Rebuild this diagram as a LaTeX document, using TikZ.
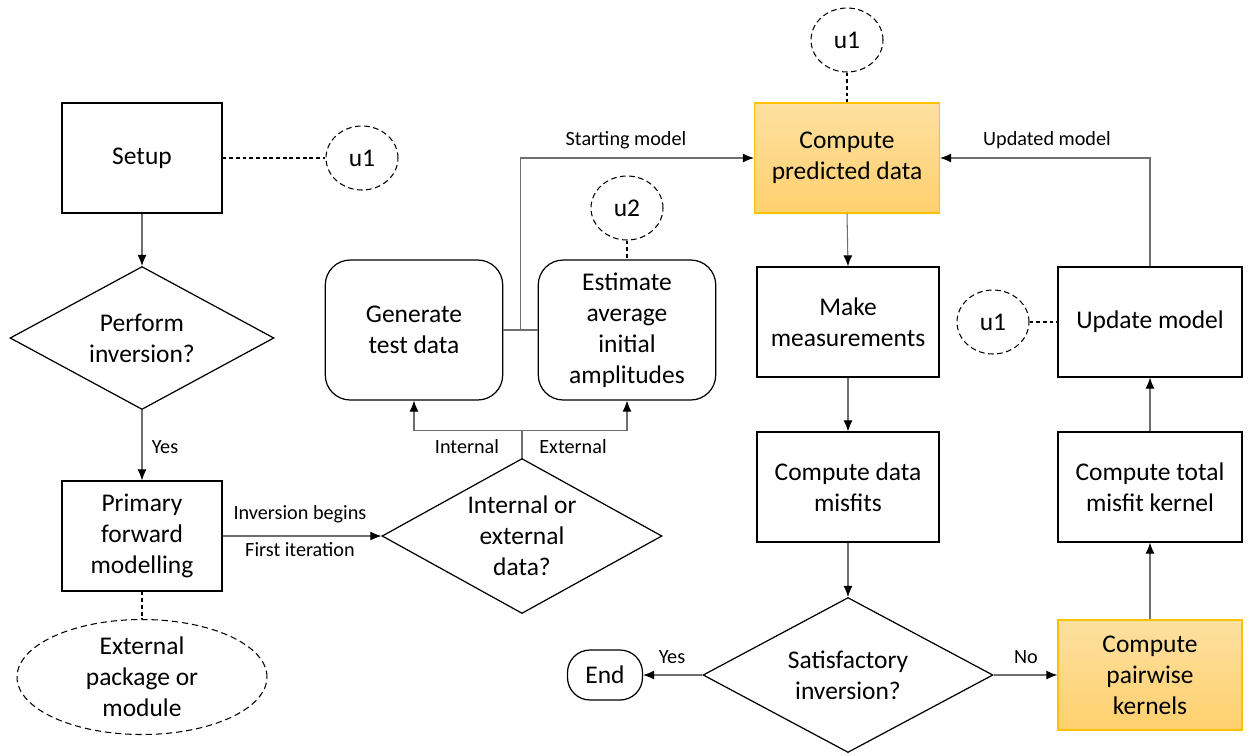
\documentclass[tikz,border=0pt]{standalone}
\usepackage{fontspec}
\setmainfont{Carlito}
\usetikzlibrary{shapes.geometric,calc,arrows.meta}

\definecolor{connline}{RGB}{110,110,110}
\definecolor{hlborder}{RGB}{255,192,0}
\definecolor{hltop}{RGB}{253,224,160}
\definecolor{hlbot}{RGB}{255,208,110}

\newcommand{\mainfs}{\fontsize{14.5}{17.6}\selectfont}
\newcommand{\lblfs}{\fontsize{11.5}{13}\selectfont}

\tikzset{
  procbox/.style={draw,line width=0.7pt,minimum width=3.2cm,minimum height=2.2cm,
    align=center,font=\mainfs,inner sep=2pt},
  hlbox/.style={procbox,draw=hlborder,top color=hltop,bottom color=hlbot},
  roundbox/.style={procbox,rounded corners=0.5cm,minimum width=3.55cm,minimum height=2.8cm},
  decision/.style={diamond,draw,line width=0.7pt,align=center,font=\mainfs,
    inner sep=0pt,aspect=1.8},
  unode/.style={ellipse,draw,dash pattern=on 3.2pt off 2pt,line width=0.6pt,
    minimum width=1.44cm,minimum height=1.28cm,font=\mainfs,inner sep=0pt},
  conn/.style={draw=connline,line width=0.6pt,-{Latex[black,length=2.2mm,width=1.8mm]}},
  plainconn/.style={draw=connline,line width=0.6pt},
  dline/.style={dash pattern=on 2.2pt off 1.6pt,line width=0.6pt},
  lbl/.style={font=\lblfs,inner sep=1pt}
}

\begin{document}
\begin{tikzpicture}[x=0.02cm,y=-0.02cm]
  \useasboundingbox (0,0) rectangle (1251,755);

  % left column
  \node[procbox] (setup) at (142,158) {Setup};
  \node[unode] (uA) at (362,158) {u1};
  \node[decision,minimum width=5.28cm,minimum height=2.86cm] (pinv) at (142,338) {Perform\\inversion?};
  \node[procbox] (pfm) at (142,536) {Primary\\forward\\modelling};
  \node[ellipse,draw,dash pattern=on 3.6pt off 2.2pt,line width=0.6pt,minimum width=5cm,
    minimum height=2.3cm,align=center,font=\mainfs,inner sep=0pt] (ext) at (142,677) {External\\package or\\module};

  % data source
  \node[decision,minimum width=5.6cm,minimum height=3.1cm] (iod) at (522,536) {Internal or\\external\\data?};
  \node[roundbox] (gen) at (414,330) {Generate\\test data};
  \node[roundbox] (est) at (627,330) {Estimate\\average\\initial\\amplitudes};
  \node[unode] (uB) at (627,208) {u2};

  % main loop
  \node[hlbox,minimum width=3.7cm] (pred) at (847,158) {Compute\\predicted data};
  \node[unode] (uC) at (847,40) {u1};
  \node[procbox,minimum width=3.64cm] (meas) at (848,322) {Make\\measurements};
  \node[procbox,minimum width=3.64cm] (misf) at (848,487) {Compute data\\misfits};
  \node[decision,minimum width=5.8cm,minimum height=3.1cm] (sat) at (848,675) {Satisfactory\\inversion?};
  \node[draw,line width=0.7pt,rounded corners=0.45cm,minimum width=1.5cm,minimum height=1cm,
    font=\mainfs] (end) at (605,675) {End};
  \node[hlbox,minimum width=3.68cm] (pair) at (1150,675) {Compute\\pairwise\\kernels};
  \node[procbox,minimum width=3.68cm] (tot) at (1150,487) {Compute total\\misfit kernel};
  \node[procbox,minimum width=3.68cm] (upd) at (1150,322) {Update model};
  \node[unode] (uD) at (993,322) {u1};

  % dashed links
  \draw[dline] (setup.east) -- (uA.west);
  \draw[dline] (pfm.south) -- (ext.north);
  \draw[dline] (uB.south) -- (est.north);
  \draw[dline] (uC.south) -- (pred.north);
  \draw[dline] (uD.east) -- (upd.west);

  % connectors
  \draw[conn] (setup.south) -- (pinv.north);
  \draw[conn] (pinv.south) -- (pfm.north);
  \node[lbl] at (165,447) {Yes};
  \draw[conn] (pfm.east) -- (iod.west);
  \node[lbl] at (300,514) {Inversion begins};
  \node[lbl] at (300,550) {First iteration};

  \coordinate (br) at ($(iod.north)+(0,-27)$);
  \draw[plainconn] (iod.north) -- (br);
  \draw[conn] (br) -| (gen.south);
  \draw[conn] (br) -| (est.south);
  \node[lbl] at (467,447) {Internal};
  \node[lbl] at (573,447) {External};

  \draw[plainconn] (gen.east) -- (est.west);
  \draw[conn] ($(gen.east)!0.5!(est.west)$) |- (pred.west);
  \node[lbl] at (626,140) {Starting model};

  \draw[conn] (pred.south) -- (meas.north);
  \draw[conn] (meas.south) -- (misf.north);
  \draw[conn] (misf.south) -- (sat.north);
  \draw[conn] (sat.west) -- (end.east);
  \node[lbl] at (672,657) {Yes};
  \draw[conn] (sat.east) -- (pair.west);
  \node[lbl] at (1026,657) {No};
  \draw[conn] (pair.north) -- (tot.south);
  \draw[conn] (tot.north) -- (upd.south);
  \draw[conn] (upd.north) |- (pred.east);
  \node[lbl] at (1047,140) {Updated model};
\end{tikzpicture}
\end{document}
